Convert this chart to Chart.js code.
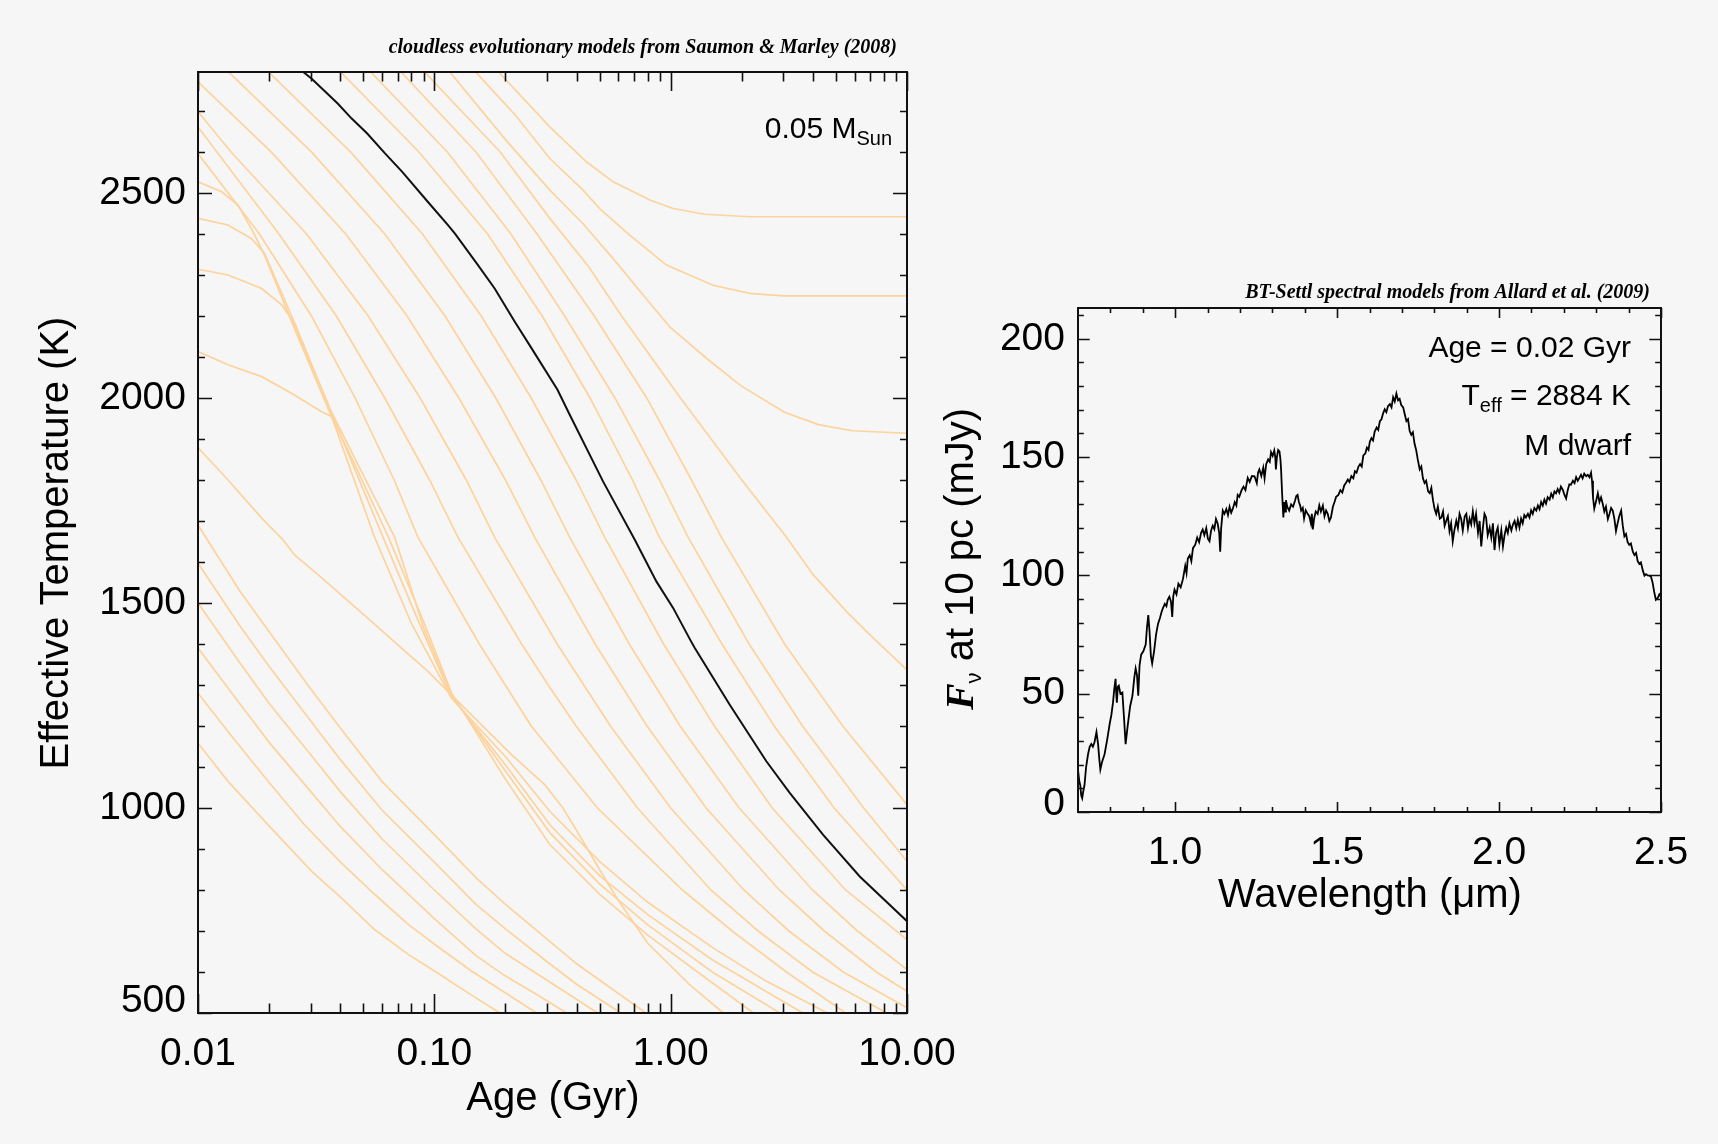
<!DOCTYPE html>
<html>
<head>
<meta charset="utf-8">
<title>Brown dwarf cooling tracks and spectrum</title>
<script src="https://cdn.jsdelivr.net/npm/chart.js@4.4.1/dist/chart.umd.min.js"></script>
<style>
  html, body { margin: 0; padding: 0; background: #f6f6f6; }
  #page { position: relative; width: 1718px; height: 1144px; overflow: hidden; }
  canvas { position: absolute; top: 0; }
  #tracks { left: 0; }
  #spectrum { left: 900px; }
</style>
</head>
<body>
<div id="page">
  <canvas id="tracks" width="980" height="1144"></canvas>
  <canvas id="spectrum" width="818" height="1144"></canvas>
</div>
<script>
// ---- left panel: cooling tracks, [age (Gyr), Teff (K)] ----
const ageTicks = [0.01, 0.1, 1, 10]
const ageTickLabels = ['0.01', '0.10', '1.00', '10.00']
const ageMinor = [0.02, 0.03, 0.04, 0.05, 0.06, 0.07, 0.08, 0.09, 0.2, 0.3, 0.4, 0.5, 0.6, 0.7, 0.8, 0.9, 2, 3, 4, 5, 6, 7, 8, 9]
const tempTicks = [500, 1000, 1500, 2000, 2500]
const tempMinor = [600, 700, 800, 900, 1100, 1200, 1300, 1400, 1600, 1700, 1800, 1900, 2100, 2200, 2300, 2400, 2600, 2700]

const m002 = [[0.01, 1158], [0.0134, 1065], [0.0198, 959], [0.0302, 846], [0.0404, 781], [0.056, 703], [0.0775, 643], [0.1005, 602], [0.139, 549], [0.189, 500]]
const m003 = [[0.01, 1280], [0.0137, 1179], [0.0198, 1065], [0.0282, 959], [0.0404, 866], [0.056, 789], [0.0775, 716], [0.1005, 667], [0.144, 602], [0.271, 500]]
const m004 = [[0.01, 1390], [0.015, 1255], [0.02, 1160], [0.03, 1040], [0.04, 955], [0.06, 850], [0.1, 730], [0.15, 640], [0.2, 590], [0.28, 540], [0.363, 500]]
const m005 = [[0.01, 1500], [0.015, 1355], [0.02, 1255], [0.03, 1130], [0.04, 1040], [0.06, 925], [0.1, 800], [0.15, 705], [0.2, 645], [0.3, 580], [0.491, 500]]
const m006 = [[0.01, 1597], [0.015, 1445], [0.02, 1345], [0.03, 1212], [0.04, 1118], [0.06, 995], [0.1, 868], [0.15, 765], [0.2, 705], [0.3, 625], [0.4, 570], [0.615, 500]]
const m007 = [[0.01, 1690], [0.015, 1530], [0.02, 1430], [0.03, 1290], [0.04, 1195], [0.06, 1065], [0.1, 935], [0.15, 830], [0.2, 765], [0.3, 680], [0.4, 620], [0.785, 500]]
const m008 = [[0.01, 1879], [0.0134, 1800], [0.0186, 1707], [0.0229, 1654], [0.0256, 1617], [0.0322, 1569], [0.0418, 1512], [0.0542, 1455], [0.0726, 1390], [0.094, 1333],
  [0.118, 1276], [0.153, 1211], [0.212, 1130], [0.293, 1057], [0.35, 1000], [0.4, 945], [0.5, 850], [0.6, 775], [0.8, 670], [1.2, 570], [1.67, 500]]
const m009 = [[0.01, 2113], [0.0134, 2081], [0.0186, 2052], [0.0256, 2007], [0.0332, 1967], [0.0367, 1955], [0.045, 1850], [0.064, 1660], [0.09, 1455], [0.118, 1282],
  [0.2, 1070], [0.308, 911], [0.5, 790], [0.8, 690], [1.3, 600], [2.24, 500]]
const m010 = [[0.01, 2314], [0.0134, 2300], [0.0186, 2267], [0.0226, 2227], [0.0248, 2194], [0.037, 1962], [0.068, 1660], [0.09, 1440], [0.118, 1276],
  [0.2, 1090], [0.308, 940], [0.5, 815], [0.8, 715], [1.5, 600], [2.9, 500]]
const m012 = [[0.01, 2438], [0.0134, 2422], [0.0168, 2389], [0.0191, 2353], [0.026, 2175], [0.037, 1958], [0.0607, 1660], [0.085, 1460], [0.118, 1272],
  [0.2, 1105], [0.308, 959], [0.5, 835], [0.8, 740], [1.5, 630], [3.62, 500]]
const m015 = [[0.01, 2527], [0.0126, 2503], [0.0148, 2470], [0.0171, 2405], [0.0191, 2349], [0.026, 2160], [0.037, 1950], [0.0559, 1660], [0.08, 1450], [0.118, 1268],
  [0.2, 1125], [0.308, 992], [0.5, 870], [0.8, 770], [1.5, 660], [2.5, 580], [4.6, 500]]
const m020 = [[0.01, 2596], [0.0182, 2400], [0.0302, 2200], [0.0462, 2000], [0.0676, 1800], [0.0853, 1660], [0.155, 1400], [0.257, 1200], [0.49, 1000], [1.122, 800], [1.82, 700], [3.09, 600], [5.495, 500]]
const m025 = [[0.01, 2661], [0.022, 2400], [0.0385, 2200], [0.0617, 2000], [0.0955, 1800], [0.126, 1660], [0.234, 1400], [0.308, 1294], [0.398, 1200], [0.724, 1000], [1.479, 800], [2.344, 700], [3.981, 600], [8.2, 500]]
const m030 = [[0.01, 2698], [0.0138, 2600], [0.0288, 2400], [0.0525, 2200], [0.0871, 2000], [0.1365, 1800], [0.18, 1660], [0.331, 1400], [0.556, 1200], [1.0, 1000], [2.04, 800], [3.162, 700], [5.37, 600], [10, 513]]
const m035 = [[0.01, 2771], [0.0204, 2600], [0.0422, 2400], [0.0767, 2200], [0.127, 2000], [0.2, 1800], [0.266, 1660], [0.479, 1400], [0.794, 1200], [1.413, 1000], [2.884, 800], [4.467, 700], [7.413, 600], [10, 553]]
const m040 = [[0.0132, 2800], [0.0302, 2600], [0.0617, 2400], [0.111, 2200], [0.182, 2000], [0.282, 1800], [0.374, 1660], [0.668, 1400], [1.096, 1200], [1.95, 1000], [3.981, 800], [6.166, 700], [10, 606]]
const m045 = [[0.0195, 2800], [0.0442, 2600], [0.0891, 2400], [0.158, 2200], [0.257, 2000], [0.398, 1800], [0.526, 1660], [0.933, 1400], [1.531, 1200], [2.69, 1000], [5.495, 800], [10, 679]]
const m050 = [[0.0272, 2800], [0.0302, 2779], [0.039, 2718], [0.0446, 2682], [0.052, 2645], [0.0617, 2597], [0.073, 2552], [0.094, 2478], [0.114, 2422], [0.1225, 2400],
  [0.153, 2324], [0.18, 2267], [0.219, 2186], [0.258, 2121], [0.332, 2020], [0.374, 1959], [0.518, 1796], [0.705, 1654], [0.871, 1552], [1.024, 1488],
  [1.21, 1410], [1.265, 1390], [1.778, 1252], [2.54, 1114], [3.19, 1037], [4.41, 935], [6.31, 833], [10, 724]]
const m055 = [[0.0394, 2800], [0.0861, 2600], [0.168, 2400], [0.286, 2200], [0.456, 2000], [0.689, 1800], [0.897, 1660], [1.648, 1400], [2.742, 1200], [4.92, 1000], [10, 800]]
const m060 = [[0.0528, 2800], [0.1135, 2600], [0.211, 2400], [0.356, 2200], [0.581, 2000], [0.897, 1800], [1.186, 1660], [2.148, 1400], [3.614, 1200], [6.561, 1000], [10, 870]]
const m065 = [[0.071, 2800], [0.15, 2600], [0.272, 2400], [0.475, 2200], [0.792, 2000], [1.225, 1800], [1.64, 1660], [3.034, 1400], [5.346, 1200], [10, 1008]]
const m070 = [[0.0892, 2800], [0.19, 2600], [0.308, 2438], [0.45, 2320], [0.62, 2200], [1.1, 2000], [2.0, 1800], [3.04, 1666], [4.01, 1569], [5.55, 1479], [6.97, 1422], [10, 1337]]
const m075 = [[0.1144, 2800], [0.2, 2630], [0.308, 2507], [0.426, 2425], [0.59, 2330], [0.793, 2240], [0.996, 2172], [1.43, 2095], [1.98, 2030], [3.03, 1965], [4.22, 1935], [5.87, 1920], [10, 1914]]
const m080 = [[0.1469, 2800], [0.22, 2690], [0.308, 2584], [0.426, 2507], [0.501, 2462], [0.671, 2397], [0.96, 2324], [1.51, 2275], [2.16, 2255], [2.99, 2249], [10, 2249]]
const m085 = [[0.1835, 2800], [0.308, 2661], [0.44, 2576], [0.571, 2527], [0.816, 2483], [1.024, 2462], [1.394, 2448], [2.16, 2442], [10, 2442]]

const tracks = [m002, m003, m004, m005, m006, m007, m008, m009, m010, m012, m015, m020, m025, m030, m035, m040, m045, m050, m055, m060, m065, m070, m075, m080, m085]
const highlighted = m050

// ---- right panel: BT-Settl spectrum, wavelength (um) and flux (mJy) ----
const waveTicks = [1.0, 1.5, 2.0, 2.5]
const waveTickLabels = ['1.0', '1.5', '2.0', '2.5']
const waveMinor = [0.8, 0.9, 1.1, 1.2, 1.3, 1.4, 1.6, 1.7, 1.8, 1.9, 2.1, 2.2, 2.3, 2.4]
const fluxTicks = [0, 50, 100, 150, 200]
const fluxMinor = [10, 20, 30, 40, 60, 70, 80, 90, 110, 120, 130, 140, 160, 170, 180, 190, 210]

const wavelength = [
  0.700, 0.704, 0.707, 0.710, 0.713, 0.716, 0.720, 0.725, 0.731, 0.736, 0.741, 0.746, 0.751, 0.757, 0.762, 0.766, 0.769, 0.774, 0.782, 0.790,
  0.798, 0.803, 0.808, 0.812, 0.816, 0.818, 0.820, 0.823, 0.826, 0.831, 0.837, 0.842, 0.847, 0.853, 0.861, 0.868, 0.874, 0.878, 0.882, 0.886,
  0.890, 0.895, 0.902, 0.909, 0.913, 0.917, 0.921, 0.925, 0.929, 0.935, 0.941, 0.947, 0.953, 0.958, 0.962, 0.968, 0.973, 0.977, 0.982, 0.987,
  0.991, 0.994, 0.998, 1.004, 1.010, 1.017, 1.024, 1.031, 1.035, 1.039, 1.045, 1.050, 1.055, 1.062, 1.068, 1.074, 1.080, 1.085, 1.090, 1.096,
  1.101, 1.106, 1.111, 1.116, 1.121, 1.126, 1.131, 1.136, 1.139, 1.142, 1.147, 1.152, 1.158, 1.163, 1.168, 1.173, 1.178, 1.184, 1.189, 1.193,
  1.198, 1.205, 1.211, 1.217, 1.224, 1.230, 1.237, 1.245, 1.252, 1.256, 1.260, 1.266, 1.272, 1.276, 1.281, 1.287, 1.292, 1.296, 1.301, 1.306,
  1.309, 1.311, 1.314, 1.318, 1.322, 1.325, 1.327, 1.330, 1.334, 1.337, 1.340, 1.342, 1.346, 1.352, 1.358, 1.364, 1.370, 1.374, 1.378, 1.382,
  1.386, 1.389, 1.394, 1.398, 1.403, 1.409, 1.414, 1.419, 1.422, 1.425, 1.429, 1.434, 1.440, 1.445, 1.450, 1.456, 1.461, 1.466, 1.471, 1.476,
  1.481, 1.487, 1.492, 1.497, 1.504, 1.510, 1.516, 1.522, 1.527, 1.533, 1.538, 1.544, 1.550, 1.555, 1.560, 1.566, 1.571, 1.576, 1.581, 1.587,
  1.592, 1.597, 1.601, 1.606, 1.611, 1.616, 1.622, 1.627, 1.632, 1.637, 1.642, 1.647, 1.652, 1.657, 1.663, 1.668, 1.673, 1.678, 1.683, 1.688,
  1.693, 1.698, 1.704, 1.709, 1.714, 1.719, 1.724, 1.729, 1.734, 1.739, 1.744, 1.749, 1.755, 1.760, 1.765, 1.770, 1.775, 1.781, 1.786, 1.791,
  1.796, 1.801, 1.806, 1.811, 1.817, 1.822, 1.827, 1.832, 1.837, 1.842, 1.847, 1.852, 1.857, 1.862, 1.868, 1.873, 1.878, 1.883, 1.888, 1.894,
  1.899, 1.904, 1.909, 1.914, 1.919, 1.924, 1.929, 1.935, 1.940, 1.945, 1.950, 1.955, 1.960, 1.965, 1.971, 1.976, 1.981, 1.986, 1.991, 1.996,
  2.001, 2.007, 2.012, 2.017, 2.022, 2.027, 2.032, 2.038, 2.043, 2.048, 2.053, 2.058, 2.063, 2.068, 2.073, 2.078, 2.083, 2.089, 2.094, 2.099,
  2.104, 2.109, 2.115, 2.120, 2.125, 2.130, 2.135, 2.140, 2.145, 2.150, 2.156, 2.161, 2.166, 2.171, 2.176, 2.181, 2.186, 2.191, 2.197, 2.202,
  2.207, 2.212, 2.217, 2.222, 2.228, 2.233, 2.238, 2.243, 2.248, 2.253, 2.258, 2.263, 2.269, 2.274, 2.279, 2.284, 2.287, 2.290, 2.294, 2.299,
  2.305, 2.310, 2.315, 2.320, 2.325, 2.330, 2.336, 2.341, 2.346, 2.351, 2.356, 2.361, 2.366, 2.371, 2.377, 2.382, 2.387, 2.392, 2.397, 2.402,
  2.407, 2.413, 2.418, 2.423, 2.428, 2.433, 2.438, 2.444, 2.449, 2.454, 2.459, 2.464, 2.469, 2.474, 2.479, 2.484, 2.490, 2.495, 2.500]
const flux = [
  17.9, 13.0, 11.3, 7.0, 5.8, 8.5, 11.3, 19.0, 24.4, 27.5, 28.7, 27.6, 29.5, 33.8, 28.7, 22.0, 17.9, 21.0, 24.4, 30.5,
  37.4, 41.0, 46.2, 52.0, 56.3, 50.0, 46.2, 53.0, 53.4, 50.0, 50.5, 40.0, 28.7, 36.0, 44.7, 49.0, 57.0, 60.7, 58.0, 49.1,
  62.0, 66.5, 68.0, 70.8, 78.0, 83.2, 76.0, 66.0, 62.8, 68.0, 75.0, 79.5, 82.0, 84.5, 86.1, 88.0, 87.0, 89.7, 91.0, 89.0,
  82.4, 91.0, 94.0, 92.0, 96.5, 95.0, 98.4, 104.0, 101.0, 107.1, 108.5, 106.0, 111.5, 113.0, 116.0, 114.0, 118.0, 119.4, 117.0, 120.0,
  115.5, 114.4, 119.0, 121.0, 119.5, 123.8, 122.0, 118.0, 110.0, 120.0, 127.4, 126.0, 128.0, 125.5, 129.0, 126.5, 128.2, 131.0, 129.5, 134.0,
  133.2, 136.0, 137.5, 136.0, 141.2, 139.5, 142.0, 141.9, 139.0, 143.5, 144.8, 142.0, 145.5, 141.0, 147.0, 149.0, 148.0, 152.1, 150.5, 152.8,
  150.0, 144.8, 150.0, 153.0, 152.4, 149.0, 144.8, 135.0, 124.5, 131.0, 127.0, 131.8, 129.0, 127.4, 130.0, 129.0, 131.5, 133.5, 134.0, 131.0,
  129.5, 127.4, 128.5, 124.0, 127.5, 126.0, 125.0, 122.0, 126.0, 119.4, 124.0, 127.0, 126.0, 129.6, 127.0, 129.5, 125.0, 127.4, 126.0, 123.0,
  124.5, 129.0, 131.0, 133.2, 134.0, 136.0, 135.0, 138.0, 139.0, 140.5, 139.5, 142.0, 141.0, 144.0, 143.4, 146.0, 147.0, 146.0, 150.7, 151.5,
  154.0, 153.0, 156.5, 158.0, 157.0, 160.8, 162.5, 161.5, 165.2, 166.0, 168.5, 170.2, 169.0, 171.5, 172.4, 171.0, 175.3, 173.5, 176.8, 174.0,
  174.6, 172.0, 171.0, 168.0, 165.2, 166.0, 161.0, 159.4, 160.5, 155.7, 153.0, 149.0, 144.8, 146.0, 141.0, 139.0, 140.0, 135.5, 134.7, 137.0,
  131.8, 128.0, 126.0, 129.0, 124.0, 124.5, 127.0, 121.0, 123.1, 125.0, 118.7, 122.0, 114.4, 119.0, 123.1, 120.0, 126.0, 123.8, 119.0, 125.0,
  126.0, 120.0, 124.0, 121.6, 127.0, 122.0, 126.0, 118.0, 123.0, 112.2, 120.0, 126.0, 124.5, 117.0, 120.2, 116.0, 122.0, 110.7, 118.0, 120.2,
  113.0, 119.0, 112.2, 117.0, 120.2, 118.0, 122.0, 119.0, 121.6, 123.0, 120.0, 123.5, 120.2, 124.0, 122.0, 125.5, 124.5, 126.0, 124.5, 127.5,
  126.0, 128.5, 127.4, 129.5, 128.0, 131.0, 129.5, 132.0, 130.3, 133.0, 132.0, 134.5, 133.0, 135.5, 134.7, 136.5, 135.0, 137.5, 136.1, 134.0,
  132.5, 136.0, 138.5, 138.3, 140.0, 139.0, 141.5, 140.0, 141.2, 142.5, 141.0, 143.0, 141.9, 142.5, 141.5, 143.4, 140.0, 133.0, 128.2, 131.0,
  134.7, 131.0, 133.0, 130.3, 127.0, 129.0, 123.8, 126.0, 128.5, 127.4, 124.0, 118.7, 122.0, 125.0, 127.4, 121.0, 116.5, 117.5, 114.0, 112.9,
  113.5, 110.0, 108.6, 109.5, 106.0, 104.9, 105.5, 102.0, 99.9, 100.5, 100.0, 99.9, 99.5, 97.0, 93.0, 89.7, 90.5, 92.0, 91.1]

const sans = '"Liberation Sans", Arial, Helvetica, sans-serif'
const serif = '"Liberation Serif", "Times New Roman", serif'
const trackColor = '#fdd39d'

// inward ticks on all four sides, like an IDL box plot
function boxTicks(cfg) {
  return {
    id: 'boxTicks',
    afterDatasetsDraw(chart) {
      const { ctx, chartArea: a, scales: { x, y } } = chart
      ctx.save()
      ctx.strokeStyle = '#111'
      ctx.lineWidth = 1.6
      ctx.beginPath()
      const xt = (vals, len) => {
        for (const v of vals) {
          const p = Math.round(x.getPixelForValue(v)) + 0.5
          ctx.moveTo(p, a.bottom); ctx.lineTo(p, a.bottom - len)
          ctx.moveTo(p, a.top); ctx.lineTo(p, a.top + len)
        }
      }
      const yt = (vals, len) => {
        for (const v of vals) {
          const p = Math.round(y.getPixelForValue(v)) + 0.5
          ctx.moveTo(a.left, p); ctx.lineTo(a.left + len, p)
          ctx.moveTo(a.right, p); ctx.lineTo(a.right - len, p)
        }
      }
      xt(cfg.xMajor, cfg.xLen); xt(cfg.xMinor, cfg.xLen / 2)
      yt(cfg.yMajor, cfg.yLen); yt(cfg.yMinor, cfg.yLen / 2)
      ctx.stroke()
      ctx.lineWidth = 2
      ctx.strokeRect(a.left, a.top, a.right - a.left, a.bottom - a.top)
      ctx.restore()
    }
  }
}

// free text: titles, axis titles and notes; runs allow sub/superscripts
function texts(items) {
  return {
    id: 'texts',
    afterDraw(chart) {
      const ctx = chart.ctx
      for (const it of items) {
        ctx.save()
        ctx.fillStyle = '#000'
        ctx.textBaseline = 'alphabetic'
        ctx.translate(it.x, it.y)
        if (it.rotate) ctx.rotate(-Math.PI / 2)
        let total = 0
        for (const r of it.runs) { ctx.font = r.font; total += ctx.measureText(r.t).width }
        let pos = it.align === 'right' ? -total : it.align === 'center' ? -total / 2 : 0
        for (const r of it.runs) {
          ctx.font = r.font
          ctx.fillText(r.t, pos, r.dy || 0)
          pos += ctx.measureText(r.t).width
        }
        ctx.restore()
      }
    }
  }
}

// the lowest y label sits a little above its tick, as in the original
function liftedFont(size, lift) {
  return c => ({ family: sans, size: size, lineHeight: c.index === 0 ? 2 * lift / size : 1.2 })
}

new Chart(document.getElementById('tracks'), {
  type: 'line',
  data: {
    datasets: tracks.map(t => ({
      data: t.map(p => ({ x: p[0], y: p[1] })),
      borderColor: t === highlighted ? '#111' : trackColor,
      borderWidth: t === highlighted ? 2 : 1.7,
      order: t === highlighted ? 0 : 1,
      pointRadius: 0,
      clip: 0
    }))
  },
  options: {
    responsive: false,
    animation: false,
    layout: { autoPadding: false, padding: { left: 0, top: 72, right: 73, bottom: 0 } },
    plugins: { legend: { display: false }, tooltip: { enabled: false } },
    scales: {
      x: {
        type: 'logarithmic', min: 0.01, max: 10,
        grid: { display: false, drawTicks: false }, border: { display: false },
        afterBuildTicks: s => { s.ticks = ageTicks.map(v => ({ value: v })) },
        afterFit: s => { s.height = 131 },
        ticks: { padding: 18, autoSkip: false, maxRotation: 0, color: '#000', font: { family: sans, size: 39 },
          callback: (v, i) => ageTickLabels[i] }
      },
      y: {
        type: 'linear', min: 500, max: 2795,
        grid: { display: false, drawTicks: false }, border: { display: false },
        afterBuildTicks: s => { s.ticks = tempTicks.map(v => ({ value: v })) },
        afterFit: s => { s.width = 198 },
        ticks: { padding: 12, autoSkip: false, color: '#000', font: liftedFont(39, 11.5),
          callback: (v, i) => i === 0 ? [String(v), ''] : String(v) }
      }
    }
  },
  plugins: [
    boxTicks({ xMajor: ageTicks, xMinor: ageMinor, xLen: 19, yMajor: tempTicks, yMinor: tempMinor, yLen: 14 }),
    texts([
      { x: 897, y: 53, align: 'right', runs: [{ t: 'cloudless evolutionary models from Saumon & Marley (2008)', font: 'italic bold 20px ' + serif }] },
      { x: 892, y: 138, align: 'right', runs: [{ t: '0.05 M', font: '30px ' + sans }, { t: 'Sun', font: '20px ' + sans, dy: 7 }] },
      { x: 68, y: 543, align: 'center', rotate: true, runs: [{ t: 'Effective Temperature (K)', font: '40px ' + sans }] },
      { x: 553, y: 1110, align: 'center', runs: [{ t: 'Age (Gyr)', font: '40px ' + sans }] }
    ])
  ]
})

new Chart(document.getElementById('spectrum'), {
  type: 'line',
  data: {
    datasets: [{
      data: wavelength.map((w, i) => ({ x: w, y: flux[i] })),
      borderColor: '#000', borderWidth: 1.8, pointRadius: 0, clip: 0
    }]
  },
  options: {
    responsive: false,
    animation: false,
    layout: { autoPadding: false, padding: { left: 0, top: 308, right: 57, bottom: 0 } },
    plugins: { legend: { display: false }, tooltip: { enabled: false } },
    scales: {
      x: {
        type: 'linear', min: 0.7, max: 2.5,
        grid: { display: false, drawTicks: false }, border: { display: false },
        afterBuildTicks: s => { s.ticks = waveTicks.map(v => ({ value: v })) },
        afterFit: s => { s.height = 332 },
        ticks: { padding: 18, autoSkip: false, maxRotation: 0, color: '#000', font: { family: sans, size: 39 },
          callback: (v, i) => waveTickLabels[i] }
      },
      y: {
        type: 'linear', min: 0, max: 213,
        grid: { display: false, drawTicks: false }, border: { display: false },
        afterBuildTicks: s => { s.ticks = fluxTicks.map(v => ({ value: v })) },
        afterFit: s => { s.width = 178 },
        ticks: { padding: 13, autoSkip: false, color: '#000', font: liftedFont(39, 8),
          callback: (v, i) => i === 0 ? [String(v), ''] : String(v) }
      }
    }
  },
  plugins: [
    boxTicks({ xMajor: waveTicks, xMinor: waveMinor, xLen: 10, yMajor: fluxTicks, yMinor: fluxMinor, yLen: 11.7 }),
    texts([
      { x: 750, y: 298, align: 'right', runs: [{ t: 'BT-Settl spectral models from Allard et al. (2009)', font: 'italic bold 20px ' + serif }] },
      { x: 731, y: 357, align: 'right', runs: [{ t: 'Age = 0.02 Gyr', font: '30px ' + sans }] },
      { x: 731, y: 405, align: 'right', runs: [{ t: 'T', font: '30px ' + sans }, { t: 'eff', font: '20px ' + sans, dy: 7 }, { t: ' = 2884 K', font: '30px ' + sans }] },
      { x: 731, y: 455, align: 'right', runs: [{ t: 'M dwarf', font: '30px ' + sans }] },
      { x: 73, y: 559, align: 'center', rotate: true, runs: [{ t: 'F', font: 'italic bold 40px ' + serif }, { t: '\u03bd', font: '22px ' + sans, dy: 8 }, { t: ' at 10 pc (mJy)', font: '40px ' + sans }] },
      { x: 470, y: 907, align: 'center', runs: [{ t: 'Wavelength (\u03bcm)', font: '40px ' + sans }] }
    ])
  ]
})
</script>
</body>
</html>
